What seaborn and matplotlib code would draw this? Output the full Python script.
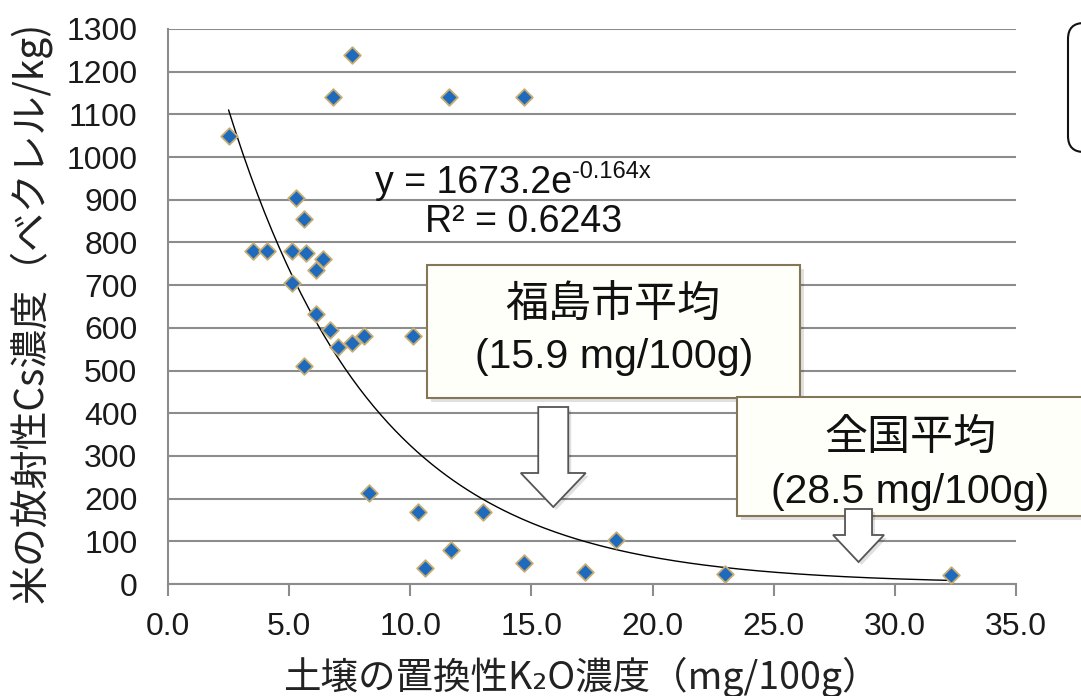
import numpy as np
import pandas as pd
import matplotlib
matplotlib.use("Agg")
import matplotlib.pyplot as plt
from matplotlib.patches import Rectangle, Polygon, FancyBboxPatch
import seaborn as sns

# soil exchangeable K2O (mg/100g) vs rice radioactive Cs (Bq/kg)
k2o = [2.5, 3.5, 4.1, 5.1, 5.1, 5.3, 5.6, 5.7, 5.6, 6.1, 6.1, 6.4, 6.7, 7.0,
       6.8, 7.6, 7.6, 8.1, 8.3, 10.1, 10.3, 10.6, 11.7, 11.6, 13.0, 14.7,
       14.7, 17.2, 18.5, 23.0, 32.3]
cs = [1050, 780, 780, 780, 705, 905, 855, 775, 510, 735, 632, 762, 595, 555,
      1140, 1240, 565, 582, 213, 580, 169, 37, 80, 1140, 169, 49,
      1140, 29, 103, 23, 21]

# trendline as printed on the chart
trend_a = 1673.2
trend_b = -0.164
r2 = 0.6243
trend_range = (2.5, 32.3)

fukushima_avg = 15.9
national_avg = 28.5

x_ticks = [0, 5, 10, 15, 20, 25, 30, 35]
y_ticks = list(range(0, 1301, 100))

sns.set_style("white")
plt.rcParams["font.family"] = ["Liberation Sans", "DejaVu Sans"]
jp = ["Noto Sans CJK JP", "DejaVu Sans"]

W, H = 1081, 696
fig = plt.figure(figsize=(W / 100, H / 100), dpi=100)


def px(x, y):
    return x / W, 1 - y / H


def inch(x, y):
    return x / 100, (H - y) / 100


ax = fig.add_axes([168 / W, 1 - 584 / H, 848 / W, 555 / H])

df = pd.DataFrame({"k2o": k2o, "cs": cs})
xs = np.linspace(trend_range[0], trend_range[1], 200)
trend = pd.DataFrame({"x": xs, "y": trend_a * np.exp(trend_b * xs)})

sns.lineplot(data=trend, x="x", y="y", color="black", linewidth=1.0, ax=ax, zorder=2)
sns.scatterplot(data=df, x="k2o", y="cs", marker="D", s=72, color="#1e6bbd",
                edgecolor="#c8ad72", linewidth=1.3, ax=ax, zorder=3)

ax.set_xlim(0, 35)
ax.set_ylim(0, 1300)
ax.set_xticks(x_ticks)
ax.set_xticklabels([f"{v:.1f}" for v in x_ticks])
ax.set_yticks(y_ticks)
ax.set_xlabel("")
ax.set_ylabel("")
ax.set_axisbelow(True)
ax.yaxis.grid(True, color="#8c8c8c", linewidth=1.5)
ax.xaxis.grid(False)
for s in ["top", "right"]:
    ax.spines[s].set_visible(False)
for s in ["left", "bottom"]:
    ax.spines[s].set_color("#8c8c8c")
    ax.spines[s].set_linewidth(1.5)
ax.tick_params(axis="x", direction="out", length=8.5, width=1.5, color="#8c8c8c",
               pad=12, labelsize=23, labelcolor="#1a1a1a", bottom=True)
ax.tick_params(axis="y", length=0, pad=22, labelsize=23, labelcolor="#1a1a1a")

# axis titles
fig.text(*px(30, 312), "米の放射性Cs濃度（ベクレル/kg)", rotation=90, ha="center",
         va="center", fontsize=28, family=jp, color="#222222")
fig.text(*px(581, 677), "土壌の置換性K₂O濃度（mg/100g）", ha="center", va="center",
         fontsize=27, family=jp, color="#222222")

# trendline equation (plain hyphen in the exponent, as on the chart)
eq = fig.text(*px(375, 193), "y = 1673.2e", ha="left", va="baseline",
              fontsize=27, color="#111111")
renderer = fig.canvas.get_renderer()
eq_right = eq.get_window_extent(renderer).x1
fig.text(eq_right / fig.dpi / (W / 100), 1 - 178 / H, "-0.164x", ha="left",
         va="baseline", fontsize=17, color="#111111")
fig.text(*px(524, 232), f"R² = {r2}", ha="center", va="baseline", fontsize=27,
         color="#111111")


def callout(x0, y0, x1, y1):
    bx, by = inch(x0, y1)
    w, h = (x1 - x0) / 100, (y1 - y0) / 100
    fig.add_artist(Rectangle((bx + 0.04, by - 0.04), w, h, transform=fig.dpi_scale_trans,
                             facecolor="#000000", alpha=0.12, edgecolor="none", zorder=4))
    fig.add_artist(Rectangle((bx, by), w, h, transform=fig.dpi_scale_trans,
                             facecolor="#fffffa", edgecolor="#85765a", linewidth=1.5,
                             zorder=4))


def block_arrow(x_data, tip_y, length, shaft, head, head_len):
    tx = ax.transData.transform((x_data, 0))[0] / 100
    ty = (H - tip_y) / 100
    L, w, hw, hl = length / 100, shaft / 100, head / 100, head_len / 100
    verts = [(tx - w, ty + L), (tx + w, ty + L), (tx + w, ty + hl), (tx + hw, ty + hl),
             (tx, ty), (tx - hw, ty + hl), (tx - w, ty + hl)]
    shadow = [(vx + 0.03, vy - 0.03) for vx, vy in verts]
    fig.add_artist(Polygon(shadow, closed=True, transform=fig.dpi_scale_trans,
                           facecolor="#000000", alpha=0.12, edgecolor="none", zorder=6))
    fig.add_artist(Polygon(verts, closed=True, transform=fig.dpi_scale_trans,
                           facecolor="white", edgecolor="#555555", linewidth=1.3,
                           zorder=6))


# Fukushima city average
callout(427, 265, 800, 398)
fig.text(*px(613, 306), "福島市平均", ha="center", va="center", fontsize=31,
         family=jp, color="#111111", zorder=5)
fig.text(*px(614, 357), f"({fukushima_avg} mg/100g)", ha="center", va="center",
         fontsize=29.5, color="#111111", zorder=5)
block_arrow(fukushima_avg, 507, 100, 15, 32.5, 34)

# national average
callout(737, 397, 1095, 516)
fig.text(*px(910, 438), "全国平均", ha="center", va="center", fontsize=31,
         family=jp, color="#111111", zorder=5)
fig.text(*px(910, 492), f"({national_avg} mg/100g)", ha="center", va="center",
         fontsize=29.5, color="#111111", zorder=5)
block_arrow(national_avg, 562, 53, 13.5, 25.5, 27)

# partially visible rounded box at the right edge
fig.add_artist(FancyBboxPatch(inch(1068, 152), 0.6, 1.29, transform=fig.dpi_scale_trans,
                              boxstyle="round,pad=0,rounding_size=0.16",
                              facecolor="white", edgecolor="#111111", linewidth=1.5,
                              zorder=4))

fig.savefig("out.png", dpi=100)
